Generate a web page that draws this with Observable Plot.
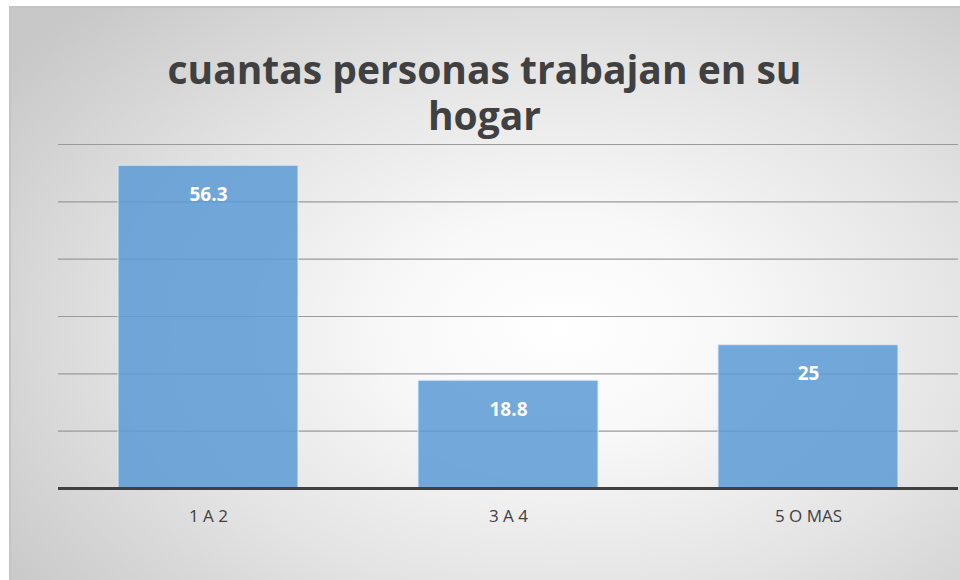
<!DOCTYPE html>
<html>
<head>
<meta charset="utf-8">
<script src="https://cdn.jsdelivr.net/npm/d3@7"></script>
<script src="https://cdn.jsdelivr.net/npm/@observablehq/plot@0.6"></script>
<style>
  html, body { margin: 0; padding: 0; background: #fff; }
  #chart {
    position: absolute; left: 9px; top: 6px; width: 951px; height: 574px;
    border-top: 2px solid #c4c4c4; border-left: 2px solid #c4c4c4;
    box-sizing: border-box;
    background: radial-gradient(ellipse 72% 78% at 58% 56%, #ffffff 0%, #f8f8f8 25%, #e4e4e4 60%, #c8c8c8 100%);
    overflow: hidden;
  }
  #title {
    height: 132px; box-sizing: border-box; padding-top: 38px;
    text-align: center; font-family: "Open Sans", sans-serif; font-weight: 700;
    font-size: 39px; line-height: 46px; color: #404040; padding-right: 2px;
  }
  #plot svg { display: block; }
</style>
</head>
<body>
<div id="chart">
  <div id="title">cuantas personas trabajan en su<br>hogar</div>
  <div id="plot"></div>
</div>
<script>
const categories = ["1 A 2", "3 A 4", "5 O MAS"];
const values = [56.3, 18.8, 25];
const gridTicks = [10, 20, 30, 40, 50, 60];

const data = categories.map((c, i) => ({category: c, value: values[i]}));

const plot = Plot.plot({
  width: 949,
  height: 440,
  marginTop: 4,
  marginBottom: 92,
  marginLeft: 47,
  marginRight: 2,
  style: {background: "transparent", fontFamily: "'Open Sans', sans-serif", overflow: "visible"},
  x: {domain: categories, paddingInner: 0.4, paddingOuter: 0.2, label: null},
  y: {domain: [0, 60], label: null, axis: null},
  marks: [
    Plot.ruleY(gridTicks, {stroke: "#9a9a9a", strokeWidth: 1.2}),
    Plot.barY(data, {x: "category", y: "value", fill: "#5b9bd5", fillOpacity: 0.85, stroke: "#dbe9f6", strokeWidth: 1}),
    Plot.ruleY([0], {stroke: "#404040", strokeWidth: 3}),
    Plot.text(data, {x: "category", y: "value", text: d => String(d.value), dy: 29, fill: "#ffffff", fontWeight: "bold", fontSize: 19}),
    Plot.axisX({tickSize: 0, tickPadding: 21, fontSize: 17, color: "#404040", label: null})
  ]
});
document.getElementById("plot").appendChild(plot);
</script>
</body>
</html>
